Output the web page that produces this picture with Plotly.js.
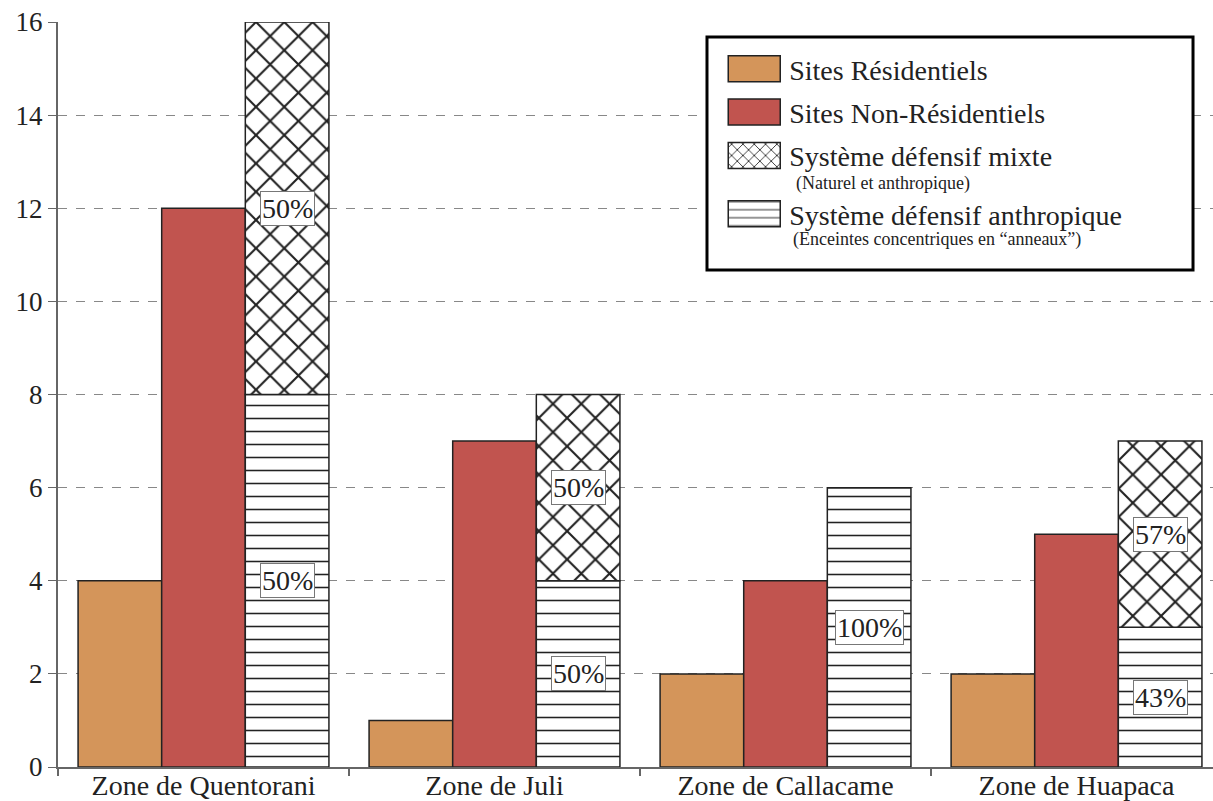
<!DOCTYPE html>
<html><head><meta charset="utf-8">
<script src="https://cdn.plot.ly/plotly-3.0.1.min.js"></script>
<style>html,body{margin:0;padding:0;background:#fff}</style>
</head><body><div id="chart" style="width:1213px;height:801px"></div>
<script>
const zones = ['Zone de Quentorani', 'Zone de Juli', 'Zone de Callacame', 'Zone de Huapaca'];
const residentiels = [4, 1, 2, 2];
const nonResidentiels = [12, 7, 4, 5];
const defAnthropique = [8, 4, 6, 3];
const defMixte = [8, 4, 0, 4];
const seriesNames = ['Sites Résidentiels', 'Sites Non-Résidentiels', 'Système défensif mixte', 'Système défensif anthropique'];
const seriesNotes = ['(Naturel et anthropique)', '(Enceintes concentriques en “anneaux”)'];
const yTicks = [0, 2, 4, 6, 8, 10, 12, 14, 16];

const FONT = 'Liberation Serif, Times New Roman, serif';
const INK = '#222';
const bargap = 0.138;
const outline = {color: INK, width: 1.5};

const traces = [
  {type: 'bar', name: seriesNames[0], x: zones, y: residentiels, offsetgroup: 'a', legendgroup: 'g1', legendrank: 1,
   marker: {color: '#D4955A', line: outline}},
  {type: 'bar', name: seriesNames[1], x: zones, y: nonResidentiels, offsetgroup: 'b', legendgroup: 'g2', legendrank: 2,
   marker: {color: '#C1544F', line: outline}},
  {type: 'bar', name: seriesNames[3], x: zones, y: defAnthropique, offsetgroup: 'c', legendgroup: 'g4', legend: 'legend2',
   marker: {color: 'white', line: outline, pattern: {shape: '-', fgcolor: INK, bgcolor: 'white', size: 13, solidity: 0.12}}},
  {type: 'bar', name: seriesNames[2], x: zones, y: defMixte, base: defAnthropique, offsetgroup: 'c', legendgroup: 'g3', legendrank: 3,
   marker: {color: 'white', line: outline, pattern: {shape: 'x', fgcolor: INK, bgcolor: 'white', size: 20, solidity: 0.2}}}
];

const barW = (1 - bargap) / 3;
const annotations = [];
zones.forEach((z, i) => {
  const tot = defAnthropique[i] + defMixte[i];
  const segs = [[0, defAnthropique[i]], [defAnthropique[i], defMixte[i]]];
  segs.forEach(([b, v]) => {
    if (v > 0) {
      annotations.push({x: i + barW, y: b + v / 2, xref: 'x', yref: 'y', showarrow: false,
        text: Math.round(v / tot * 100) + '%', font: {family: FONT, size: 28, color: INK},
        bgcolor: 'white', bordercolor: '#777', borderwidth: 1, borderpad: 1});
    }
  });
});
// legend sub-notes
annotations.push({xref: 'paper', yref: 'paper', x: 0.6375, y: 0.7835, xanchor: 'left', yanchor: 'middle', showarrow: false,
  text: seriesNotes[0], font: {family: FONT, size: 18, color: INK}});
annotations.push({xref: 'paper', yref: 'paper', x: 0.6350, y: 0.7075, xanchor: 'left', yanchor: 'middle', showarrow: false,
  text: seriesNotes[1], font: {family: FONT, size: 18, color: INK}});

const legendStyle = {xanchor: 'left', yanchor: 'top', bgcolor: 'rgba(0,0,0,0)', borderwidth: 0,
  font: {family: FONT, size: 28, color: INK}, itemwidth: 60, tracegroupgap: 4, traceorder: 'grouped'};

const layout = {
  width: 1213, height: 801,
  margin: {l: 58, r: 0, t: 22, b: 34},
  paper_bgcolor: 'white', plot_bgcolor: 'white',
  barmode: 'group', bargap: bargap, bargroupgap: 0,
  font: {family: FONT, color: INK},
  xaxis: {type: 'category', range: [-0.5, 3.469], showline: true, linecolor: '#666', linewidth: 2,
    ticks: 'outside', tickson: 'boundaries', ticklen: 7, tickcolor: '#666', tickwidth: 2,
    ticklabelstandoff: -8,
    tickfont: {family: FONT, size: 28, color: INK}, showgrid: false, zeroline: false, fixedrange: true},
  yaxis: {range: [0, 16], tickvals: yTicks, showline: true, linecolor: '#666', linewidth: 2,
    ticks: 'outside', ticklen: 8, tickcolor: '#666', tickwidth: 1,
    tickfont: {family: FONT, size: 27, color: INK},
    showgrid: true, gridcolor: '#888', gridwidth: 1, griddash: 'dash', zeroline: false},
  showlegend: true,
  legend: Object.assign({x: 0.5725, y: 0.9705}, legendStyle),
  legend2: Object.assign({x: 0.5725, y: 0.7758}, legendStyle),
  shapes: [{type: 'rect', xref: 'paper', yref: 'paper', x0: 0.5619, x1: 0.9827, y0: 0.6671, y1: 0.9799,
    fillcolor: 'white', line: {color: 'black', width: 3}, layer: 'above'}],
  annotations: annotations
};

function bigSwatches() {
  document.querySelectorAll('g.legendpoints path').forEach(p => p.setAttribute('d', 'M26,13H-26V-13H26Z'));
}
Plotly.newPlot('chart', traces, layout, {staticPlot: true}).then(gd => {
  bigSwatches();
  gd.on && gd.on('plotly_afterplot', bigSwatches);
  setTimeout(bigSwatches, 50);
  setTimeout(bigSwatches, 300);
});
</script></body></html>
